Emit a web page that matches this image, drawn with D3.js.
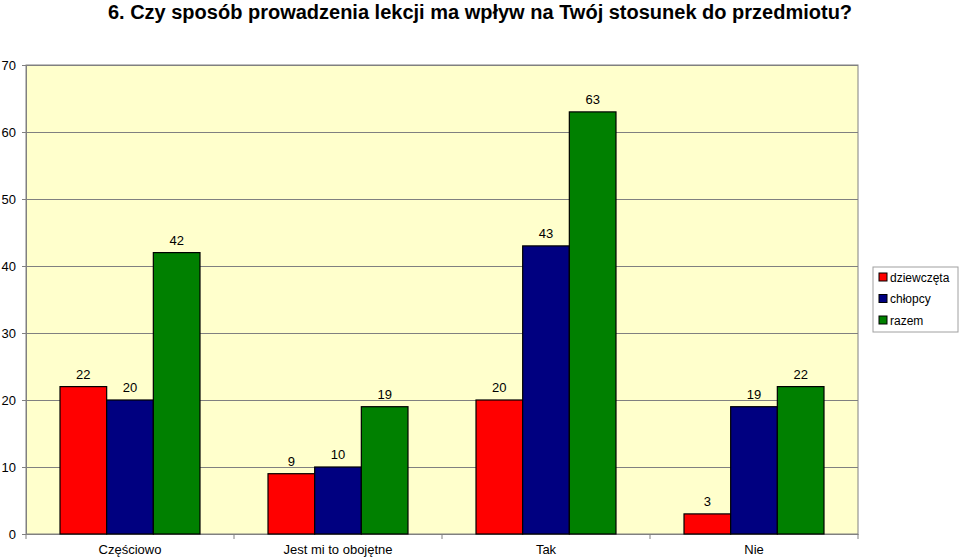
<!DOCTYPE html>
<html>
<head>
  <meta charset="utf-8">
  <title>Czy sposób prowadzenia lekcji</title>
  <script src="https://d3js.org/d3.v7.min.js"></script>
  <style>
    body { margin: 0; background: #fff; font-family: "Liberation Sans", Arial, sans-serif; }
  </style>
</head>
<body>
  <div id="chart"></div>
  <script>
    const categories = ["Częściowo", "Jest mi to obojętne", "Tak", "Nie"];
    const seriesNames = ["dziewczęta", "chłopcy", "razem"];
    const dziewczeta = [22, 9, 20, 3];
    const chlopcy = [20, 10, 43, 19];
    const razem = [42, 19, 63, 22];
    const yTicks = [0, 10, 20, 30, 40, 50, 60, 70];
    const colors = ["#ff0000", "#000080", "#008000"];

    const series = [dziewczeta, chlopcy, razem];
    const data = categories.map((c, i) => ({
      cat: c,
      values: seriesNames.map((s, j) => ({ key: s, value: series[j][i], color: colors[j] }))
    }));

    const width = 959, height = 558;
    const plot = { left: 26, right: 858, top: 65, bottom: 534 };

    const svg = d3.select("#chart").append("svg")
      .attr("width", width)
      .attr("height", height)
      .style("font-family", "'Liberation Sans', Arial, sans-serif");

    svg.append("text")
      .attr("x", 480)
      .attr("y", 19)
      .attr("text-anchor", "middle")
      .style("font-size", "20px")
      .style("font-weight", "bold")
      .text("6. Czy sposób prowadzenia lekcji ma wpływ na Twój stosunek do przedmiotu?");

    const x0 = d3.scaleBand()
      .domain(categories)
      .range([plot.left, plot.right])
      .paddingInner(0.327)
      .paddingOuter(0.1635);

    const x1 = d3.scaleBand()
      .domain(seriesNames)
      .range([0, x0.bandwidth()]);

    const y = d3.scaleLinear()
      .domain([0, 70])
      .range([plot.bottom, plot.top]);

    // plot background
    svg.append("rect")
      .attr("x", plot.left)
      .attr("y", plot.top)
      .attr("width", plot.right - plot.left)
      .attr("height", plot.bottom - plot.top)
      .attr("fill", "#ffffcc")
      .attr("stroke", "#808080");

    // gridlines
    svg.append("g")
      .selectAll("line")
      .data(yTicks.filter(d => d > 0))
      .enter().append("line")
      .attr("x1", plot.left)
      .attr("x2", plot.right)
      .attr("y1", d => y(d) + 0.5)
      .attr("y2", d => y(d) + 0.5)
      .attr("stroke", "#808080");

    // y axis
    const yAxis = svg.append("g")
      .attr("transform", "translate(" + plot.left + ",0)")
      .call(d3.axisLeft(y).tickValues(yTicks).tickSize(4).tickPadding(6));
    yAxis.select(".domain").attr("stroke", "#808080");
    yAxis.selectAll(".tick line").attr("stroke", "#808080");
    yAxis.selectAll(".tick text")
      .style("font-size", "13px")
      .style("font-family", "'Liberation Sans', Arial, sans-serif")
      .attr("fill", "#000");

    // x axis
    const xAxis = svg.append("g")
      .attr("transform", "translate(0," + plot.bottom + ")")
      .call(d3.axisBottom(x0).tickSize(0).tickPadding(11));
    xAxis.select(".domain").attr("stroke", "#808080");
    xAxis.selectAll(".tick text")
      .style("font-size", "13px")
      .style("font-family", "'Liberation Sans', Arial, sans-serif")
      .attr("fill", "#000");

    // category divider ticks
    const step = x0.step();
    svg.append("g")
      .selectAll("line")
      .data(d3.range(categories.length + 1))
      .enter().append("line")
      .attr("x1", i => plot.left + i * step)
      .attr("x2", i => plot.left + i * step)
      .attr("y1", plot.bottom)
      .attr("y2", plot.bottom + 5)
      .attr("stroke", "#808080");

    // bars
    const groups = svg.append("g")
      .selectAll("g")
      .data(data)
      .enter().append("g")
      .attr("transform", d => "translate(" + x0(d.cat) + ",0)");

    groups.selectAll("rect")
      .data(d => d.values)
      .enter().append("rect")
      .attr("x", d => x1(d.key))
      .attr("y", d => y(d.value))
      .attr("width", x1.bandwidth())
      .attr("height", d => y(0) - y(d.value))
      .attr("fill", d => d.color)
      .attr("stroke", "#000")
      .attr("stroke-width", 1.2);

    groups.selectAll("text")
      .data(d => d.values)
      .enter().append("text")
      .attr("x", d => x1(d.key) + x1.bandwidth() / 2)
      .attr("y", d => y(d.value) - 8)
      .attr("text-anchor", "middle")
      .style("font-size", "13px")
      .text(d => d.value);

    // legend
    const legend = svg.append("g")
      .attr("transform", "translate(873,267)");
    legend.append("rect")
      .attr("width", 85)
      .attr("height", 65)
      .attr("fill", "#fff")
      .attr("stroke", "#a0a0a0");
    const item = legend.selectAll(".item")
      .data(seriesNames)
      .enter().append("g")
      .attr("class", "item")
      .attr("transform", (d, i) => "translate(6," + (10 + i * 21.5) + ")");
    item.append("rect")
      .attr("x", 0)
      .attr("y", -4)
      .attr("width", 8)
      .attr("height", 8)
      .attr("fill", (d, i) => colors[i])
      .attr("stroke", "#000");
    item.append("text")
      .attr("x", 11)
      .attr("y", 4.5)
      .style("font-size", "12px")
      .text(d => d);
  </script>
</body>
</html>
